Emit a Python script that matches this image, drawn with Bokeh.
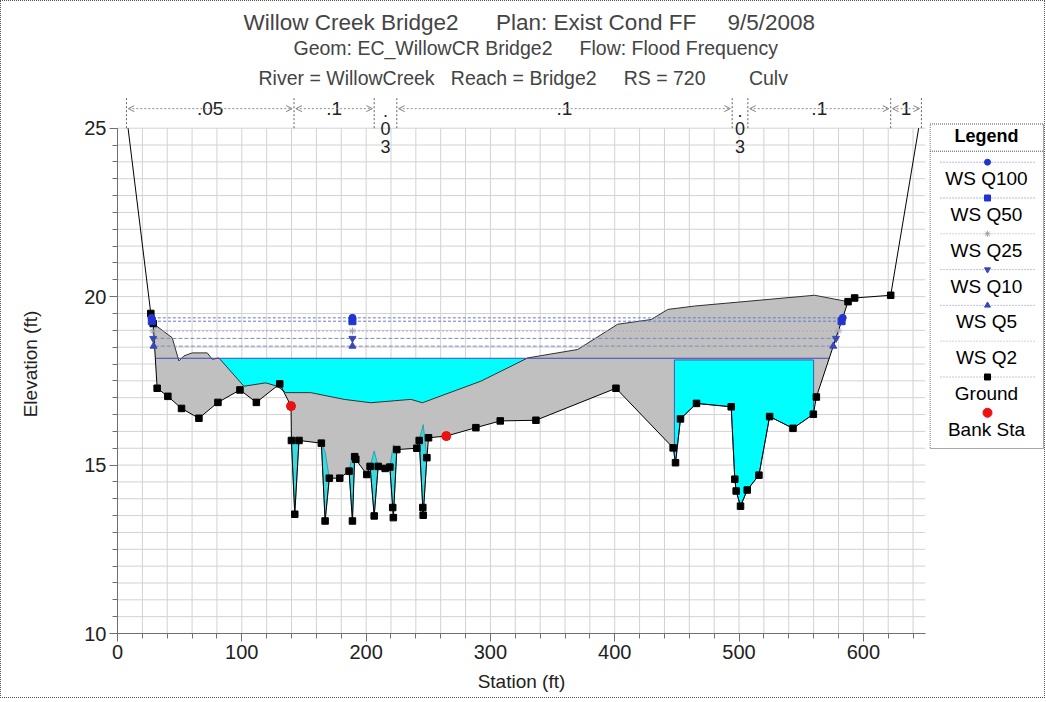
import numpy as np
from bokeh.plotting import figure
from bokeh.layouts import row
from bokeh.models import Range1d, SingleIntervalTicker, Title, Arrow, OpenHead
from bokeh.embed import file_html
from bokeh.resources import INLINE
from bokeh.core.properties import value

FONT = "'Liberation Sans', Arial, sans-serif"
NB = "\u00a0"

# ---------------- data ----------------
title_lines = [
    "Willow Creek Bridge2" + NB * 6 + "Plan: Exist Cond FF" + NB * 5 + "9/5/2008",
    "Geom: EC_WillowCR Bridge2" + NB * 5 + "Flow: Flood Frequency",
    "River = WillowCreek" + NB * 3 + "Reach = Bridge2" + NB * 5 + "RS = 720" + NB * 8 + "Culv",
]

ground_sta = [8.5, 26.8, 28.7, 31.9, 40.5, 51.5, 65.5, 80.8, 98.5, 111.7, 130.5, 139.6,
              139.9, 142.6, 146.0, 164.0, 167.0, 170.4, 178.8, 186.3, 189.0, 190.8, 191.7,
              200.5, 203.2, 206.5, 209.7, 215.3, 219.1, 221.4, 221.9, 224.7, 240.8, 242.7,
              245.6, 245.9, 248.9, 250.2, 264.5, 288.3, 307.9, 336.6, 401.0, 447.0, 448.9,
              452.9, 465.8, 493.7, 496.6, 497.7, 501.2, 506.6, 516.0, 524.6, 543.4, 559.8,
              562.2, 587.7, 593.0, 622.0, 644.5]
ground_el = [25.0, 19.5, 19.2, 17.28, 17.04, 16.68, 16.39, 16.86, 17.23, 16.86, 17.41, 16.75,
             15.73, 13.54, 15.73, 15.65, 13.34, 14.61, 14.61, 14.82, 13.34, 15.25, 15.17,
             14.72, 14.96, 13.49, 14.96, 14.90, 14.94, 13.74, 13.44, 15.46, 15.50, 15.73,
             13.74, 13.51, 15.22, 15.81, 15.86, 16.11, 16.31, 16.33, 17.28, 15.51, 15.07,
             16.37, 16.83, 16.73, 14.58, 14.23, 13.78, 14.26, 14.70, 16.44, 16.09, 16.51,
             17.02, 19.85, 19.96, 20.04, 25.0]

bank_sta = [139.6, 264.5]
bank_el = [16.75, 15.86]

# top of the road / embankment (upper edge of the grey fill)
road_sta = [28.7, 44.0, 49.4, 53.4, 60.1, 72.2, 76.2, 81.6, 101.7, 119.2, 128.6, 135.3, 155.4,
            182.3, 203.8, 236.0, 245.3, 292.3, 330.0, 370.2, 402.4, 429.3, 442.7, 464.2,
            560.8, 587.7]
road_el = [19.2, 18.78, 18.09, 18.24, 18.33, 18.33, 18.14, 18.18, 17.34, 17.44, 17.34, 17.15,
           17.15, 16.95, 16.85, 16.95, 16.85, 17.49, 18.18, 18.43, 19.18, 19.32, 19.62, 19.72,
           20.04, 19.85]

# culvert opening (box)
culvert_sta = [448.0, 560.0]
culvert_top = 18.12

# water-filled slots in the channel bottom (ground indices L, bottom, R) and top of the sliver
trench_idx = [(12, 13, 14), (15, 16, 17), (19, 20, 21), (24, 25, 26), (28, 30, 31), (33, 35, 36)]
trench_top = [15.73, 15.40, 15.30, 15.42, 15.60, 16.20]

ws_names = ["WS Q100", "WS Q50", "WS Q25", "WS Q10", "WS Q5", "WS Q2"]
ws_el = [19.37, 19.27, 18.98, 18.76, 18.53, 18.17]
ws_left = [28.4, 28.6, 29.4, 29.7, 30.0, 30.6]
ws_right = [583.4, 582.5, 580.0, 578.0, 575.8, 572.6]
ws_mid = 189.0

n_breaks = [7.2, 142.0, 206.5, 224.7, 494.5, 507.1, 622.0, 646.7]
n_labels = [".05", ".1", ".03", ".1", ".03", ".1", "1"]

legend_names = ws_names + ["Ground", "Bank Sta"]

# ---------------- styles / layout ----------------
ws_colors = ["#2233d0", "#2233d0", "#a0a0b8", "#3848b8", "#3848b8", "#4646c8"]
ws_line_colors = ["#6a78d0", "#6a78d0", "#a8a8bc", "#8088c0", "#8088c0", "#4646c8"]
ws_markers = ["circle", "square", "asterisk", "inverted_triangle", "triangle", None]
ws_dash = ["3 2", "3 2", "2 2", "4 2", "4 2", "solid"]
GREY = "#c0c0c0"
CYAN = "#00ffff"

H = 696
TOP, BOT = 93, 64
Y25_PX, PX_FT = 127.7, 539.0 / 16.0


def ey(py):
    """page pixel row -> elevation units (used only to place legend items)"""
    return 25.0 - (py - Y25_PX) / PX_FT


p = figure(width=928, height=H, x_range=Range1d(0, 650), y_range=Range1d(10, 26.0),
           toolbar_location=None, output_backend="svg",
           min_border_left=116, min_border_right=4, min_border_top=TOP, min_border_bottom=BOT)
p.outline_line_color = None
p.grid.visible = False

# titles: p.title is outermost, first added is closest to the frame
p.title.text = title_lines[0]
p.title.align = "left"
p.title.offset = 126
p.title.text_font = FONT
p.title.text_font_style = "normal"
p.title.text_font_size = "22.5px"
p.title.standoff = 0
p.title.vertical_align = "bottom"
p.add_layout(Title(text=title_lines[2], align="left", offset=141, text_font=FONT,
                   text_font_style="normal", text_font_size="19.5px", standoff=12,
                   vertical_align="bottom"), "above")
p.add_layout(Title(text=title_lines[1], align="left", offset=176, text_font=FONT,
                   text_font_style="normal", text_font_size="19.5px", standoff=0,
                   vertical_align="bottom"), "above")

# grid (drawn as segments so that it stops at elevation 25)
gx = np.arange(0, 651, 20)
gy = np.arange(10, 25.01, 0.5)
p.segment(x0=gx, y0=10, x1=gx, y1=25, line_color="#d2d2d2", line_width=1)
p.segment(x0=0, y0=gy, x1=650, y1=gy, line_color="#d2d2d2", line_width=1)

# axes
p.xaxis.ticker = SingleIntervalTicker(interval=100, num_minor_ticks=5)
p.yaxis.ticker = SingleIntervalTicker(interval=5, num_minor_ticks=10)
p.xaxis.bounds = (0, 650)
p.yaxis.bounds = (10, 25)
p.xaxis.axis_label = "Station (ft)"
p.yaxis.axis_label = "Elevation (ft)"
for ax in (p.xaxis[0], p.yaxis[0]):
    ax.axis_label_text_font = FONT
    ax.axis_label_text_font_style = "normal"
    ax.axis_label_text_font_size = "19px"
    ax.major_label_text_font = FONT
    ax.major_label_text_font_size = "20px"
    ax.major_label_text_color = "#222222"
    ax.axis_label_text_color = "#222222"
    ax.axis_line_color = "#707070"
    ax.major_tick_line_color = "#707070"
    ax.minor_tick_line_color = "#707070"
    ax.major_tick_in = 0
    ax.major_tick_out = 8
    ax.minor_tick_in = 0
    ax.minor_tick_out = 5
    ax.major_label_standoff = 3
p.xaxis.axis_label_standoff = 9
p.yaxis.axis_label_standoff = 40

# grey embankment fill: road top then ground back
i0 = ground_sta.index(road_sta[0])
i1 = ground_sta.index(road_sta[-1])
gxs = road_sta + ground_sta[i0:i1 + 1][::-1]
gys = road_el + ground_el[i0:i1 + 1][::-1]
p.patch(gxs, gys, fill_color=GREY, line_color=None)

# water above the road, under WS Q2
q2 = ws_el[-1]
sel = [k for k, s in enumerate(road_sta) if road_sta[7] <= s <= road_sta[18]]
cxs = [road_sta[sel[0]], road_sta[sel[-1]]] + [road_sta[k] for k in sel][::-1]
cys = [q2, q2] + [road_el[k] for k in sel][::-1]
p.patch(cxs, cys, fill_color=CYAN, line_color=None)

# water in the culvert box
inside = [k for k, s in enumerate(ground_sta) if culvert_sta[0] < s < culvert_sta[1]]
gl = float(np.interp(culvert_sta[0], ground_sta, ground_el))
gr = float(np.interp(culvert_sta[1], ground_sta, ground_el))
bxs = [culvert_sta[0], culvert_sta[0], culvert_sta[1], culvert_sta[1]] + [ground_sta[k] for k in inside][::-1]
bys = [gl, culvert_top, culvert_top, gr] + [ground_el[k] for k in inside][::-1]
p.patch(bxs, bys, fill_color=CYAN, line_color="#4a55a8", line_width=1)

# water in the slots
txs, tys = [], []
for (a, b, c), top in zip(trench_idx, trench_top):
    txs.append([ground_sta[a], ground_sta[b], ground_sta[c], ground_sta[b]])
    tys.append([ground_el[a], ground_el[b], ground_el[c], top])
p.patches(txs, tys, fill_color="#40d8e0", line_color="#2a8f98", line_width=0.8)

# road edge line
p.line(road_sta, road_el, line_color="#303030", line_width=1)

# water surface lines
for k in range(len(ws_names)):
    p.line([ws_left[k], ws_right[k]], [ws_el[k], ws_el[k]], line_color=ws_line_colors[k],
           line_width=1, line_dash=ws_dash[k])

# ground
p.line(ground_sta, ground_el, line_color="black", line_width=1)
p.scatter(ground_sta[1:-1], ground_el[1:-1], marker="square", size=6.5, fill_color="black",
          line_color="black")

# water surface markers
for k in range(len(ws_names)):
    if ws_markers[k] is None:
        continue
    mx = [ws_left[k] - 1.0, ws_mid, ws_right[k]]
    p.scatter(mx, [ws_el[k]] * 3, marker=ws_markers[k], size=7, fill_color=ws_colors[k],
              line_color=ws_colors[k])

# bank stations
p.scatter(bank_sta, bank_el, marker="circle", size=9, fill_color="#ee1111", line_color="#ee1111")

# Manning's n band above the plot
band_y = 25.58
p.segment(x0=n_breaks, y0=25.0, x1=n_breaks, y1=25.92, line_color="#606060", line_dash="2 2")
mids = [(a + b) / 2 for a, b in zip(n_breaks[:-1], n_breaks[1:])]
h_idx = [k for k, t in enumerate(n_labels) if t != ".03"]
v_idx = [k for k, t in enumerate(n_labels) if t == ".03"]
for k in h_idx:
    p.add_layout(Arrow(start=OpenHead(size=6, line_color="#808080", line_width=1),
                       end=OpenHead(size=6, line_color="#808080", line_width=1),
                       x_start=n_breaks[k] + 1.5, x_end=n_breaks[k + 1] - 1.5,
                       y_start=band_y, y_end=band_y, line_color="#909090", line_dash="2 2"))
p.text(x=[mids[k] for k in h_idx], y=band_y, text=[NB + n_labels[k] + NB for k in h_idx],
       text_align="center", text_baseline="middle", text_font=value(FONT),
       text_font_size="19px", text_color="#222222", background_fill_color="white")
p.text(x=[mids[k] for k in v_idx], y=25.8,
       text=["\n".join(n_labels[k]) for k in v_idx],
       text_align="center", text_baseline="top", text_font=value(FONT),
       text_font_size="18px", text_line_height=0.9, text_color="#222222")

# ---------------- legend panel (frame aligned with the main plot frame) ----------------
LW = 115
lg = figure(width=LW, height=H, x_range=Range1d(0, LW), y_range=p.y_range,
            toolbar_location=None, output_backend="svg",
            min_border_left=0, min_border_right=0, min_border_top=TOP, min_border_bottom=BOT,
            x_axis_location=None, y_axis_location=None, title=None)
lg.grid.visible = False
lg.outline_line_color = None
lg.quad(left=[0.5], right=[114], top=[ey(123.5)], bottom=[ey(448)], fill_color="white",
        line_color="#505050", line_dash="1 1")
lg.text(x=[57], y=[ey(136)], text=["Legend"], text_align="center", text_baseline="middle",
        text_font=value(FONT), text_font_style="bold", text_font_size="18px", text_color="black")
lg.segment(x0=[0.5], y0=[ey(150.7)], x1=[114], y1=[ey(150.7)], line_color="#505050",
           line_dash="1 1")

leg_marker = ws_markers + ["square", "circle"]
leg_color = ws_colors + ["black", "#ee1111"]
leg_line = ws_line_colors[:5] + ["#a8a8bc", "#909090"]
for k, name in enumerate(legend_names):
    ly = 161.7 + 35.8 * k
    if k < 7:
        lg.segment(x0=[11], y0=[ey(ly)], x1=[106], y1=[ey(ly)], line_color=leg_line[k],
                   line_dash="1 2")
    if leg_marker[k] is not None:
        lg.scatter([58], [ey(ly)], marker=leg_marker[k], size=6 if k < 7 else 9,
                   fill_color=leg_color[k], line_color=leg_color[k])
    lg.text(x=[57], y=[ey(ly + 16.5)], text=[name], text_align="center", text_baseline="middle",
            text_font=value(FONT), text_font_size="19px", text_color="black")

layout = row(p, lg, styles={"border": "1px dotted #555555"})
open("out.html", "w").write(file_html(layout, INLINE))
